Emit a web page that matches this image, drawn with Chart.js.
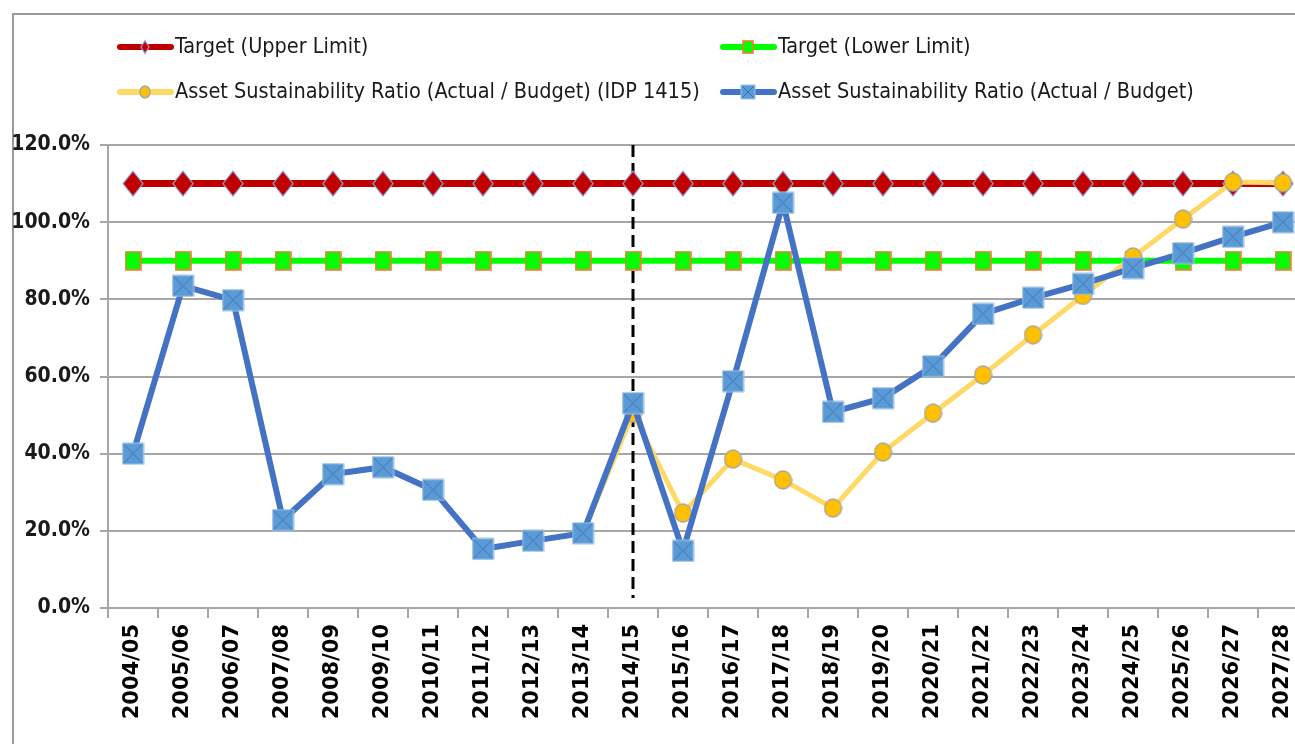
<!DOCTYPE html>
<html>
<head>
<meta charset="utf-8">
<script src="https://cdn.jsdelivr.net/npm/chart.js@4.4.1/dist/chart.umd.min.js"></script>
<style>
  html, body { margin: 0; padding: 0; background: #fff; overflow: hidden; }
  #wrap { position: relative; width: 1295px; height: 744px; overflow: hidden; }
  #frame { position: absolute; left: 12px; top: 13px; right: -10px; bottom: -10px;
           border-left: 2px solid #9a9a9a; border-top: 2px solid #9a9a9a; }
  #ratioChart { position: absolute; left: 0; top: 0; }
</style>
</head>
<body>
<div id="wrap">
  <div id="frame"></div>
  <canvas id="ratioChart" width="1310" height="744"></canvas>
</div>
<script>
// Chart data
const years = ['2004/05', '2005/06', '2006/07', '2007/08', '2008/09', '2009/10', '2010/11', '2011/12',
    '2012/13', '2013/14', '2014/15', '2015/16', '2016/17', '2017/18', '2018/19', '2019/20',
    '2020/21', '2021/22', '2022/23', '2023/24', '2024/25', '2025/26', '2026/27', '2027/28'];
const upperLimit = [110, 110, 110, 110, 110, 110, 110, 110, 110, 110, 110, 110,
    110, 110, 110, 110, 110, 110, 110, 110, 110, 110, 110, 110];
const lowerLimit = [90, 90, 90, 90, 90, 90, 90, 90, 90, 90, 90, 90,
    90, 90, 90, 90, 90, 90, 90, 90, 90, 90, 90, 90];
const idp1415 = [40, 83.5, 79.8, 22.8, 34.7, 36.5, 30.6, 15.3, 17.4, 19.4, 50.5, 24.6,
    38.6, 33.2, 25.9, 40.4, 50.5, 60.4, 70.8, 81, 91, 100.8, 110.4, 110.2];
const actualBudget = [40, 83.5, 79.8, 22.8, 34.7, 36.5, 30.6, 15.3, 17.4, 19.4, 53.1, 14.8,
    58.8, 105, 50.8, 54.4, 62.7, 76.2, 80.4, 84, 88.1, 92, 96.2, 100];
const splitYear = '2014/15';

// marker images
function makeMarker(kind, w, h) {
    const c = document.createElement('canvas');
    c.width = w; c.height = h;
    const g = c.getContext('2d');
    if (kind === 'diamond') {
        g.beginPath();
        g.moveTo(w / 2, 1); g.lineTo(w - 1, h / 2); g.lineTo(w / 2, h - 1); g.lineTo(1, h / 2);
        g.closePath();
        g.fillStyle = '#C00000'; g.fill();
        g.strokeStyle = '#8FAADC'; g.lineWidth = 1.2; g.stroke();
    } else if (kind === 'square') {
        g.fillStyle = '#00FF00'; g.fillRect(1, 1, w - 2, h - 2);
        g.strokeStyle = '#ED7D31'; g.lineWidth = 1.6; g.strokeRect(1, 1, w - 2, h - 2);
    } else if (kind === 'circle') {
        g.beginPath();
        g.ellipse(w / 2, h / 2, w / 2 - 1, h / 2 - 1, 0, 0, Math.PI * 2);
        g.fillStyle = '#FFC000'; g.fill();
        g.strokeStyle = '#A5A5A5'; g.lineWidth = 1.4; g.stroke();
    } else {
        g.fillStyle = '#5B9BD5'; g.fillRect(1, 1, w - 2, h - 2);
        g.strokeStyle = '#9DC3E6'; g.lineWidth = 1; g.strokeRect(1, 1, w - 2, h - 2);
        g.beginPath();
        g.moveTo(2, 2); g.lineTo(w - 2, h - 2); g.moveTo(w - 2, 2); g.lineTo(2, h - 2);
        g.strokeStyle = '#3F6FB8'; g.lineWidth = 1; g.stroke();
    }
    return c;
}

const legendItems = [
    { text: 'Target (Upper Limit)', color: '#C00000', marker: makeMarker('diamond', 10, 15), col: 0, row: 0 },
    { text: 'Target (Lower Limit)', color: '#00FF00', marker: makeMarker('square', 12, 14), col: 1, row: 0 },
    { text: 'Asset Sustainability Ratio (Actual / Budget) (IDP 1415)', color: '#FFD966', marker: makeMarker('circle', 12, 14), col: 0, row: 1 },
    { text: 'Asset Sustainability Ratio (Actual / Budget)', color: '#4472C4', marker: makeMarker('cross', 16, 16), col: 1, row: 1 }
];

const legendFont = "21.5px 'Liberation Sans Narrow', 'DejaVu Sans Condensed', sans-serif";

// legend drawn in two columns like the original
const legendPlugin = {
    id: 'twoColLegend',
    afterDraw(chart) {
        const ctx = chart.ctx;
        const colX = [117, 720];
        const rowY = [47, 92];
        ctx.save();
        legendItems.forEach(item => {
            const x = colX[item.col];
            const y = rowY[item.row];
            ctx.strokeStyle = item.color;
            ctx.lineWidth = 6;
            ctx.lineCap = 'round';
            ctx.beginPath();
            ctx.moveTo(x + 3, y);
            ctx.lineTo(x + 54, y);
            ctx.stroke();
            ctx.drawImage(item.marker, x + 28 - item.marker.width / 2, y - item.marker.height / 2);
            ctx.fillStyle = '#1a1a1a';
            ctx.font = legendFont;
            ctx.textBaseline = 'middle';
            ctx.textAlign = 'left';
            ctx.fillText(item.text, x + 58, y);
        });
        ctx.restore();
    }
};

// vertical dashed line at the IDP year
const splitPlugin = {
    id: 'splitLine',
    beforeDatasetsDraw(chart) {
        const ctx = chart.ctx;
        const x = chart.scales.x.getPixelForValue(years.indexOf(splitYear));
        const area = chart.chartArea;
        ctx.save();
        ctx.strokeStyle = '#000';
        ctx.lineWidth = 3;
        ctx.setLineDash([12, 6]);
        ctx.beginPath();
        ctx.moveTo(x, area.top);
        ctx.lineTo(x, area.bottom - 10);
        ctx.stroke();
        ctx.restore();
    }
};

function initRatioChart() {
    const ctx = document.getElementById('ratioChart').getContext('2d');
    return new Chart(ctx, {
        type: 'line',
        data: {
            labels: years,
            datasets: [{
                label: 'Target (Upper Limit)',
                data: upperLimit,
                borderColor: '#C00000',
                borderWidth: 7,
                pointStyle: makeMarker('diamond', 22, 27),
                order: 4
            }, {
                label: 'Target (Lower Limit)',
                data: lowerLimit,
                borderColor: '#00FF00',
                borderWidth: 6,
                pointStyle: makeMarker('square', 17, 20),
                order: 3
            }, {
                label: 'Asset Sustainability Ratio (Actual / Budget) (IDP 1415)',
                data: idp1415,
                borderColor: '#FFD966',
                borderWidth: 5,
                pointStyle: makeMarker('circle', 19, 20),
                order: 2
            }, {
                label: 'Asset Sustainability Ratio (Actual / Budget)',
                data: actualBudget,
                borderColor: '#4472C4',
                borderWidth: 6,
                pointStyle: makeMarker('cross', 23, 23),
                order: 1
            }]
        },
        options: {
            responsive: false,
            animation: false,
            layout: { autoPadding: false, padding: { top: 145, left: 0, right: 2, bottom: 0 } },
            elements: { line: { tension: 0 }, point: { radius: 11 } },
            scales: {
                y: {
                    min: 0,
                    max: 120,
                    afterFit(scale) { scale.width = 108; },
                    ticks: {
                        stepSize: 20,
                        padding: 10,
                        color: '#1a1a1a',
                        font: { family: "'Liberation Sans Narrow', 'DejaVu Sans Condensed', sans-serif", size: 21, weight: 'bold' },
                        callback: v => v.toFixed(1) + '%'
                    },
                    grid: { color: '#A6A6A6', lineWidth: 2, tickLength: 8 },
                    border: { color: '#A6A6A6', width: 2 }
                },
                x: {
                    offset: true,
                    afterFit(scale) {
                        scale.height = 136;
                        scale.paddingLeft = 0;
                        scale.paddingRight = 0;
                    },
                    ticks: {
                        autoSkip: false,
                        minRotation: 90,
                        maxRotation: 90,
                        padding: 6,
                        color: '#000',
                        font: { family: "'DejaVu Sans', sans-serif", size: 21, weight: 'bold' }
                    },
                    grid: { offset: true, drawOnChartArea: false, color: '#A6A6A6', lineWidth: 2, tickLength: 10 },
                    border: { color: '#A6A6A6', width: 2 }
                }
            },
            plugins: {
                legend: { display: false },
                tooltip: { enabled: false }
            }
        },
        plugins: [splitPlugin, legendPlugin]
    });
}

initRatioChart();
</script>
</body>
</html>
